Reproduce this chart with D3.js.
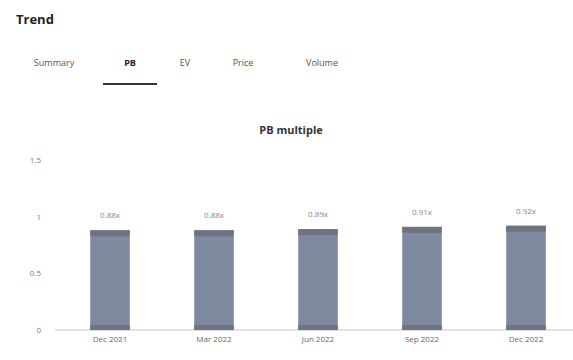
<!DOCTYPE html>
<html>
<head>
<meta charset="utf-8">
<script src="https://cdn.jsdelivr.net/npm/d3@7"></script>
<style>
  body { margin: 0; background: #fff; font-family: "Open Sans", "DejaVu Sans", sans-serif; }
  svg { display: block; }
</style>
</head>
<body>
<svg id="chart" width="573" height="360"></svg>
<script>
// Quarterly price-to-book multiple
const periods = ["Dec 2021", "Mar 2022", "Jun 2022", "Sep 2022", "Dec 2022"];
const multiples = [0.88, 0.88, 0.89, 0.91, 0.92];
const valueLabels = ["0.88x", "0.88x", "0.89x", "0.91x", "0.92x"];
const yTicks = [0, 0.5, 1, 1.5];
const tabs = ["Summary", "PB", "EV", "Price", "Volume"];
const activeTab = "PB";

const svg = d3.select("#chart");

// Card heading
svg.append("text")
  .attr("x", 16).attr("y", 24)
  .attr("font-size", 13).attr("font-weight", 700).attr("fill", "#222")
  .text("Trend");

// Tab strip
const tabX = [54, 130, 185, 243, 322];
const tabG = svg.append("g");
tabs.forEach((t, i) => {
  tabG.append("text")
    .attr("x", tabX[i]).attr("y", 66)
    .attr("text-anchor", "middle")
    .attr("font-size", 9)
    .attr("font-weight", t === activeTab ? 700 : 400)
    .attr("fill", t === activeTab ? "#222" : "#555")
    .text(t);
});
const ai = tabs.indexOf(activeTab);
tabG.append("line")
  .attr("x1", tabX[ai] - 27).attr("x2", tabX[ai] + 27)
  .attr("y1", 84).attr("y2", 84)
  .attr("stroke", "#333").attr("stroke-width", 2);

// Chart title
svg.append("text")
  .attr("x", 291).attr("y", 134)
  .attr("text-anchor", "middle")
  .attr("font-size", 11).attr("font-weight", 700).attr("fill", "#333")
  .text("PB multiple");

const x = d3.scaleBand().domain(periods).range([58, 578]).paddingInner(0.62).paddingOuter(0.31);
const y = d3.scaleLinear().domain([0, 1.5]).range([330, 160]);

// Baseline
svg.append("line")
  .attr("x1", 55).attr("x2", 573)
  .attr("y1", y(0)).attr("y2", y(0))
  .attr("stroke", "#e2e2e2").attr("stroke-width", 2);

// Y axis labels
const yAxis = d3.axisLeft(y).tickValues(yTicks).tickSize(0).tickPadding(0)
  .tickFormat(d3.format("~g"));
const yg = svg.append("g").attr("transform", "translate(41,0)").call(yAxis);
yg.select(".domain").remove();
yg.selectAll("text").attr("font-size", 8).attr("fill", "#777")
  .attr("font-family", "'Open Sans', sans-serif");

// X axis labels
const xAxis = d3.axisBottom(x).tickSize(0).tickPadding(6);
const xg = svg.append("g").attr("transform", `translate(0,${y(0)})`).call(xAxis);
xg.select(".domain").remove();
xg.selectAll("text").attr("font-size", 8).attr("fill", "#666")
  .attr("font-family", "'Open Sans', sans-serif");

// Bars
const bars = svg.append("g");
bars.selectAll("rect.bar")
  .data(periods)
  .join("rect")
  .attr("class", "bar")
  .attr("x", d => x(d))
  .attr("y", (d, i) => y(multiples[i]))
  .attr("width", x.bandwidth())
  .attr("height", (d, i) => y(0) - y(multiples[i]))
  .attr("fill", "#7e8aa0");

// Darker cap at the top of each bar
bars.selectAll("rect.cap")
  .data(periods)
  .join("rect")
  .attr("class", "cap")
  .attr("x", d => x(d))
  .attr("y", (d, i) => y(multiples[i]))
  .attr("width", x.bandwidth())
  .attr("height", 6)
  .attr("fill", "#6f7380");

// Darker foot at the baseline
bars.selectAll("rect.foot")
  .data(periods)
  .join("rect")
  .attr("class", "foot")
  .attr("x", d => x(d))
  .attr("y", y(0) - 5)
  .attr("width", x.bandwidth())
  .attr("height", 5)
  .attr("fill", "#70747e");

// Value labels
svg.append("g").selectAll("text")
  .data(periods)
  .join("text")
  .attr("x", d => x(d) + x.bandwidth() / 2)
  .attr("y", (d, i) => y(multiples[i]) - 12)
  .attr("text-anchor", "middle")
  .attr("font-size", 8)
  .attr("fill", "#888")
  .text((d, i) => valueLabels[i]);
</script>
</body>
</html>
